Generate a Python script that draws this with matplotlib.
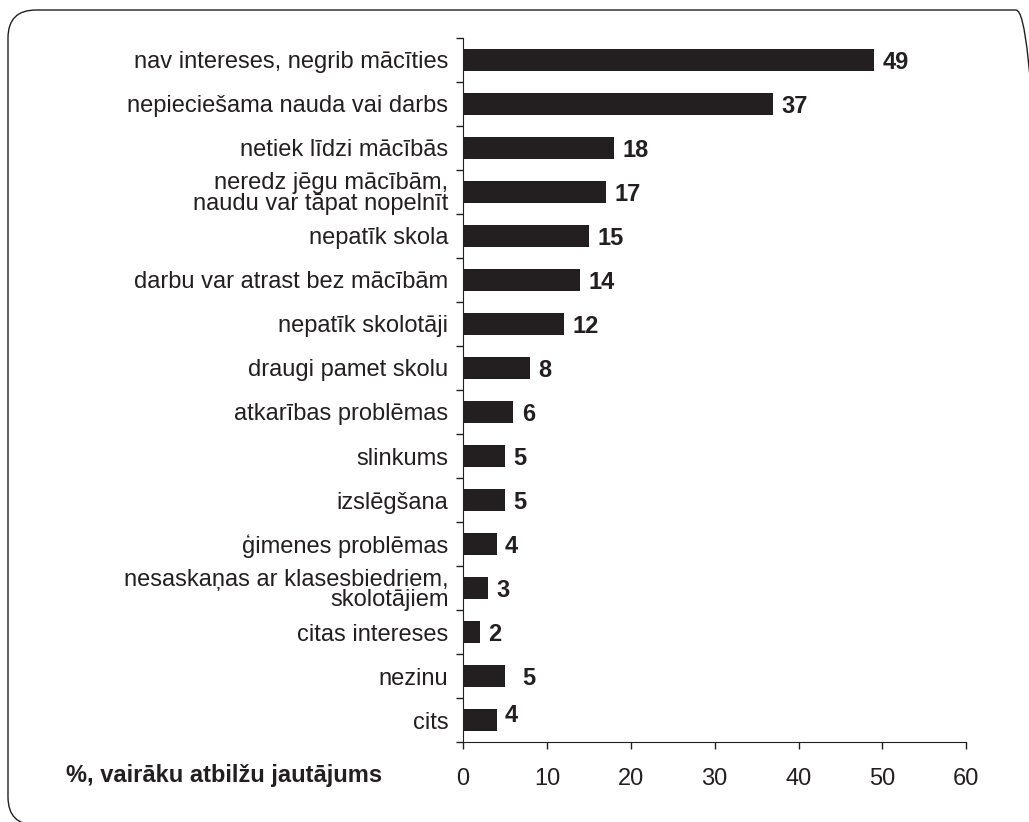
import matplotlib.pyplot as plt
import numpy as np
from matplotlib.patches import FancyBboxPatch

plt.rcParams['font.family'] = ['Liberation Sans', 'DejaVu Sans']

# iemesli, kāpēc jaunieši pamet skolu (%, vairāku atbilžu jautājums)
reasons = [
    'nav intereses, negrib mācīties',
    'nepieciešama nauda vai darbs',
    'netiek līdzi mācībās',
    'neredz jēgu mācībām,\nnaudu var tāpat nopelnīt',
    'nepatīk skola',
    'darbu var atrast bez mācībām',
    'nepatīk skolotāji',
    'draugi pamet skolu',
    'atkarības problēmas',
    'slinkums',
    'izslēgšana',
    'ģimenes problēmas',
    'nesaskaņas ar klasesbiedriem,\nskolotājiem',
    'citas intereses',
    'nezinu',
    'cits',
]
values = [49, 37, 18, 17, 15, 14, 12, 8, 6, 5, 5, 4, 3, 2, 5, 4]
x_ticks = [0, 10, 20, 30, 40, 50, 60]
axis_label = '%, vairāku atbilžu jautājums'

bar_color = '#231f20'
text_color = '#231f20'
fs = 17

fig = plt.figure(figsize=(10.29, 8.22), dpi=100)

# noapaļots rāmis (labā un apakšējā mala iziet ārpus attēla)
frame = FancyBboxPatch((0.08, -0.03), 10.36, 8.15,
                       boxstyle='round,pad=0,rounding_size=0.28',
                       transform=fig.dpi_scale_trans, fill=False,
                       edgecolor='#231f20', linewidth=1.0)
fig.patches.append(frame)

ax = fig.add_axes([0.45, 0.0973, 0.489, 0.8565])

y = np.arange(len(reasons))
ax.barh(y, values, height=0.48, color=bar_color)

ax.set_xlim(0, 60)
ax.set_ylim(len(reasons) - 0.5, -0.5)

for spine in ['top', 'right']:
    ax.spines[spine].set_visible(False)
ax.spines['left'].set_color(text_color)
ax.spines['bottom'].set_color(text_color)

ax.set_xticks(x_ticks)
ax.set_xticklabels([str(t) for t in x_ticks])
ax.tick_params(axis='x', direction='out', length=5, width=1,
               colors=text_color, labelsize=fs, pad=14)

# kategoriju nosaukumi centrā, atzīmes starp kategorijām
ax.set_yticks(y)
ax.set_yticklabels(reasons, multialignment='right', linespacing=0.92)
ax.tick_params(axis='y', which='major', length=0, labelsize=fs,
               pad=10.5, colors=text_color)
ax.set_yticks(np.arange(len(reasons) + 1) - 0.5, minor=True)
ax.tick_params(axis='y', which='minor', direction='out', length=5,
               width=1, colors=text_color)

# vērtību uzraksti aiz stabiņiem
label_shift = {'nezinu': (1.0, 0.0), 'cits': (0.0, -0.15)}
for yi, v, name in zip(y, values, reasons):
    dx, dy = label_shift.get(name, (0.0, 0.0))
    ax.text(v + 1.0 + dx, yi + dy, str(v),
            va='center_baseline', ha='left', fontsize=fs,
            fontweight='bold', color=text_color)

fig.text(0.064, 0.056, axis_label, fontsize=fs, fontweight='bold',
         color=text_color, va='center', ha='left')

fig.savefig('out.png', dpi=100)
